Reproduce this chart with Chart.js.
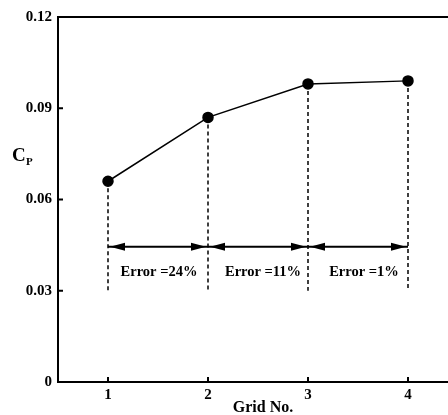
<!DOCTYPE html>
<html>
<head>
<meta charset="utf-8">
<script src="https://cdn.jsdelivr.net/npm/chart.js@4/dist/chart.umd.min.js"></script>
<style>
  html, body { margin: 0; padding: 0; background: #fff; overflow: hidden; }
  canvas { display: block; }
</style>
</head>
<body>
<canvas id="myChart" width="448" height="415"></canvas>
<script>
// Grid study data
let gridNo = [1, 2, 3, 4]
let cpValues = [0.066, 0.087, 0.098, 0.099]

let yTicks = [0, 0.03, 0.06, 0.09, 0.12]
let yTickLabels = ['0', '0.03', '0.06', '0.09', '0.12']
let xTickLabels = ['1', '2', '3', '4']
let xTitle = 'Grid No.'

// error brackets between grids
let errStart = [1, 2, 3]
let errEnd = [2, 3, 4]
let errLabels = ['Error =24%', 'Error =11%', 'Error =1%']
let errLabelX = [1.51, 2.55, 3.56]
let errLabelY = 0.036
let arrowY = 0.0445
let dashBottom = 0.03

const FONT = "'Liberation Serif', 'Times New Roman', serif"

let datasets = [{
    label: 'Cp',
    data: gridNo.map((g, i) => ({x: g, y: cpValues[i]})),
    borderColor: '#000',
    backgroundColor: '#000',
    borderWidth: 1.5,
    pointRadius: 5,
    pointHoverRadius: 5,
    order: 0,
}]

// dashed drops from each point
gridNo.forEach((g, i) => {
    datasets.push({
        data: [{x: g, y: cpValues[i]}, {x: g, y: dashBottom}],
        borderColor: '#000',
        borderWidth: 1.5,
        borderDash: [4, 3],
        pointRadius: 0,
        order: 2,
    })
})

// arrow shafts
errStart.forEach((s, i) => {
    datasets.push({
        data: [{x: s, y: arrowY}, {x: errEnd[i], y: arrowY}],
        borderColor: '#000',
        borderWidth: 2,
        pointRadius: 0,
        order: 1,
    })
})

const extras = {
    id: 'extras',
    afterDraw(chart) {
        const c = chart.ctx
        const xs = chart.scales.x
        const ys = chart.scales.y
        const area = chart.chartArea
        c.save()
        c.strokeStyle = '#000'
        c.fillStyle = '#000'

        // top frame line
        c.lineWidth = 2
        c.beginPath()
        c.moveTo(area.left, area.top)
        c.lineTo(area.right, area.top)
        c.stroke()

        // inward ticks
        yTicks.forEach(v => {
            let py = ys.getPixelForValue(v)
            c.beginPath()
            c.moveTo(area.left, py)
            c.lineTo(area.left + 5, py)
            c.stroke()
        })
        gridNo.forEach(v => {
            let px = xs.getPixelForValue(v)
            c.beginPath()
            c.moveTo(px, area.bottom)
            c.lineTo(px, area.bottom - 5)
            c.stroke()
        })

        // arrow heads
        let ay = ys.getPixelForValue(arrowY)
        const head = (tipX, dir) => {
            c.beginPath()
            c.moveTo(tipX, ay)
            c.lineTo(tipX + dir * 15, ay - 4)
            c.lineTo(tipX + dir * 15, ay + 4)
            c.closePath()
            c.fill()
        }
        errStart.forEach((s, i) => {
            head(xs.getPixelForValue(s) + 2, 1)
            head(xs.getPixelForValue(errEnd[i]) - 2, -1)
        })

        // error labels
        c.font = 'bold 14.5px ' + FONT
        c.textAlign = 'center'
        c.textBaseline = 'middle'
        errLabels.forEach((t, i) => {
            c.fillText(t, xs.getPixelForValue(errLabelX[i]), ys.getPixelForValue(errLabelY))
        })

        // x title, sits a bit right of centre in the original
        c.textBaseline = 'alphabetic'
        c.font = 'bold 16px ' + FONT
        c.fillText(xTitle, 263, 412)

        // y title C_P
        c.textAlign = 'left'
        c.font = 'bold 19px ' + FONT
        c.fillText('C', 12, 161)
        c.font = 'bold 11px ' + FONT
        c.fillText('P', 26, 165)
        c.restore()
    }
}

let ctx = document.getElementById('myChart').getContext('2d')

let chart = new Chart(ctx, {
    type: 'line',
    data: { datasets: datasets },
    options: {
        responsive: false,
        animation: false,
        events: [],
        layout: { autoPadding: false, padding: { top: 17, right: 0, left: 0, bottom: 0 } },
        plugins: {
            legend: { display: false },
            tooltip: { enabled: false },
        },
        scales: {
            x: {
                type: 'linear',
                min: 0.5,
                max: 4.4,
                afterBuildTicks: s => { s.ticks = gridNo.map(v => ({value: v})) },
                afterFit: s => { s.height = 33 },
                grid: { display: false, drawTicks: false },
                border: { display: true, color: '#000', width: 2 },
                ticks: {
                    padding: 4,
                    color: '#000',
                    font: { family: FONT, size: 15, weight: 'bold' },
                    callback: (v, i) => xTickLabels[i],
                },
            },
            y: {
                type: 'linear',
                min: 0,
                max: 0.12,
                afterBuildTicks: s => { s.ticks = yTicks.map(v => ({value: v})) },
                afterFit: s => { s.width = 58 },
                grid: { display: false, drawTicks: false },
                border: { display: true, color: '#000', width: 2 },
                ticks: {
                    padding: 6,
                    color: '#000',
                    font: { family: FONT, size: 15, weight: 'bold' },
                    callback: (v, i) => yTickLabels[i],
                },
            }
        }
    },
    plugins: [extras]
})
</script>
</body>
</html>
